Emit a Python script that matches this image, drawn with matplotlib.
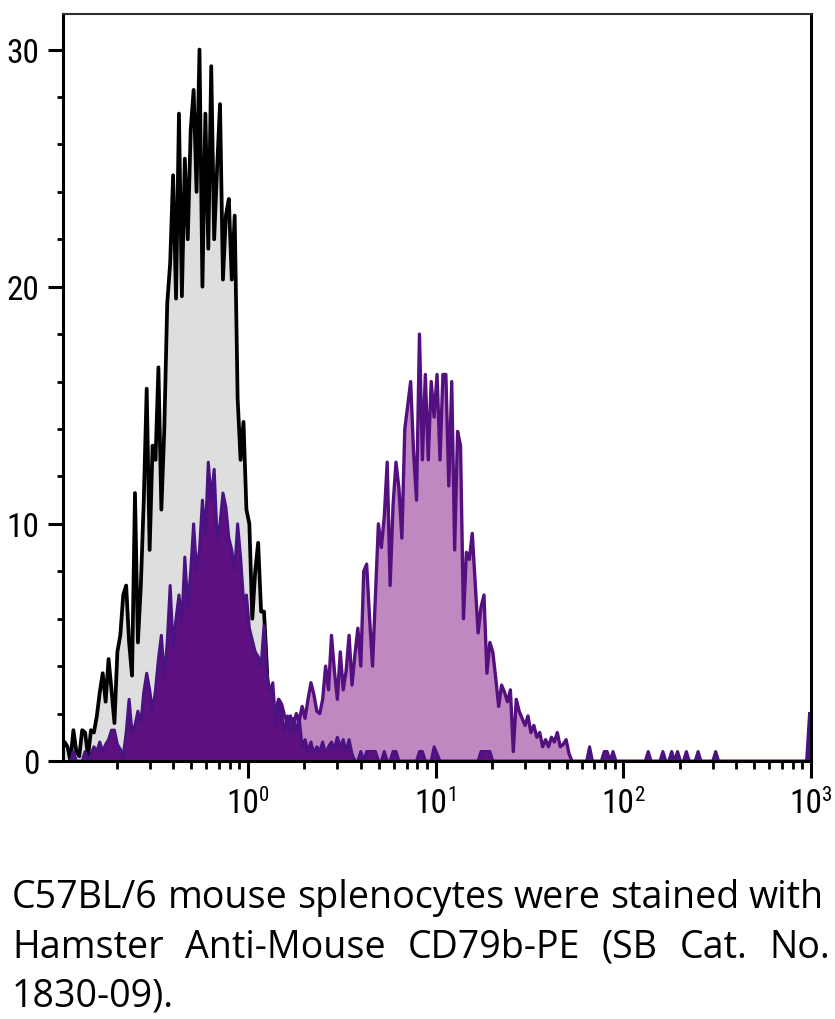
import os
import numpy as np
import matplotlib
matplotlib.use("Agg")
import matplotlib.pyplot as plt
from matplotlib import font_manager
from matplotlib.font_manager import FontProperties
from matplotlib.ticker import FixedLocator, FixedFormatter, LogLocator, NullFormatter, MultipleLocator

# ---------------- data (channel counts, 256 log channels over 10^-1 .. 10^3) ----------------
N_CHANNELS = 256
LOG_LO, LOG_HI = -1.0, 3.0

# unstained control (grey), starting at channel 0
control_start = 0
control_counts = [
    0.3, 0.8, 0.6, 0.0, 1.3, 0.4, 0.2, 1.3, 1.2, 0.2,
    1.3, 1.2, 1.9, 2.9, 3.7, 2.5, 4.3, 3.0, 1.6, 4.6,
    5.3, 7.0, 7.4, 5.0, 3.6, 11.3, 5.0, 7.4, 11.0, 15.7,
    8.9, 13.3, 12.7, 16.6, 10.6, 14.0, 19.3, 21.0, 24.7, 19.5,
    27.3, 19.6, 25.4, 22.0, 26.6, 28.3, 24.0, 30.0, 20.0, 27.3,
    21.6, 29.3, 22.0, 25.0, 27.7, 20.3, 23.0, 23.7, 20.3, 23.0,
    15.3, 12.7, 14.3, 10.6, 10.0, 6.0, 8.0, 9.2, 6.3, 6.3,
    3.9, 0.0,
]

# CD79b-PE stained, CD79b-negative population (dark purple), starting at channel 3
dark_start = 3
dark_counts = [
    0.0, 0.4, 0.0, 0.0, 0.0, 0.4, 0.0, 0.3, 0.6, 0.4,
    0.8, 0.4, 0.7, 0.9, 1.3, 1.3, 0.7, 0.5, 0.2, 1.2,
    2.6, 1.2, 1.5, 2.1, 1.6, 2.9, 3.7, 3.0, 2.1, 3.0,
    4.3, 5.3, 3.5, 5.0, 7.4, 4.8, 6.0, 7.0, 5.9, 8.6,
    6.5, 8.0, 10.0, 8.0, 8.9, 11.0, 9.5, 12.6, 11.0, 12.3,
    9.4, 10.0, 11.3, 10.7, 9.4, 8.9, 8.0, 10.0, 8.6, 6.8,
    7.0, 5.6, 5.1, 4.6, 4.4, 4.0, 5.7, 3.7, 2.9, 3.3,
    1.5, 2.6, 1.9, 1.2, 1.9, 1.2, 1.8, 1.2, 1.8, 0.6,
    0.9, 0.4, 0.8, 0.3, 0.6, 0.4, 0.8, 0.3, 0.6, 0.8,
    0.5, 1.0, 0.6, 0.9, 0.4, 0.9, 0.3, 0.0, 0.0, 0.4,
    0.0, 0.4, 0.4, 0.4, 0.4, 0.0, 0.0, 0.4, 0.0, 0.0,
    0.4, 0.4, 0.0, 0.0, 0.0, 0.0, 0.0, 0.0, 0.0, 0.4,
    0.4, 0.0, 0.0, 0.0, 0.6, 0.3, 0.0, 0.0, 0.0, 0.0,
    0.0, 0.0, 0.0, 0.0, 0.0, 0.0, 0.0, 0.0, 0.0, 0.0,
    0.4, 0.4, 0.4, 0.4, 0.0,
]
# sparse high-intensity events of the dark population
dark_tail_channels = [180, 185, 186, 188, 200, 205, 208, 210, 213, 217, 223, 255]
dark_tail_counts = [0.6, 0.4, 0.4, 0.4, 0.4, 0.4, 0.4, 0.4, 0.4, 0.4, 0.4, 2.0]

# CD79b-positive population (light purple), starting at channel 68
light_start = 68
light_counts = [
    0.8, 1.0, 1.5, 2.0, 1.8, 2.2, 2.6, 2.4, 1.9, 1.6,
    1.9, 1.4, 2.0, 1.7, 2.3, 1.8, 2.6, 3.3, 2.8, 2.1,
    2.0, 2.6, 4.0, 3.0, 5.3, 3.8, 2.6, 4.6, 3.0, 3.8,
    5.3, 3.2, 4.5, 5.6, 4.0, 8.0, 8.3, 6.0, 4.0, 7.0,
    10.0, 9.0, 10.3, 12.6, 7.4, 10.8, 12.6, 11.5, 9.4, 14.0,
    15.0, 16.0, 13.0, 11.0, 18.0, 12.7, 16.3, 12.7, 16.0, 14.5,
    16.3, 12.7, 16.3, 16.3, 11.6, 16.0, 8.9, 13.9, 13.3, 6.0,
    8.8, 8.5, 9.6, 7.5, 5.4, 6.5, 7.0, 3.7, 5.0, 4.6,
    3.5, 2.3, 3.2, 2.9, 2.5, 3.0, 0.4, 2.6, 2.1, 1.8,
    1.5, 1.9, 1.2, 1.5, 1.0, 1.2, 0.6, 0.9, 0.6, 1.0,
    0.8, 1.2, 0.6, 0.7, 0.9, 0.3, 0.0,
]

x_tick_values = [1, 10, 100, 1000]
x_tick_bases = ["10", "10", "10", "10"]
x_tick_exponents = ["0", "1", "2", "3"]
y_tick_values = [0, 10, 20, 30]
y_tick_labels = ["0", "10", "20", "30"]

caption_lines = [
    "C57BL/6 mouse splenocytes were stained with",
    "Hamster Anti-Mouse CD79b-PE (SB Cat. No.",
    "1830-09).",
]

# ---------------- fonts ----------------
def find_condensed_font():
    try:
        paths = font_manager.findSystemFonts()
    except Exception:
        paths = []
    paths = list(paths) + [f.fname for f in font_manager.fontManager.ttflist]
    prefs = ["liberationsansnarrow-regular", "liberationsansnarrow.",
             "robotocondensed-regular", "roboto_condensed-regular",
             "opensans_condensed-regular", "opensans-condensedregular",
             "notosans-condensed.", "dejavusanscondensed."]
    low = {os.path.basename(p).lower(): p for p in paths}
    for pref in prefs:
        for name, p in low.items():
            if name.startswith(pref) or pref in name:
                return p
    return None

cond_path = find_condensed_font()
if cond_path:
    TICK_FP = lambda size: FontProperties(fname=cond_path, size=size)
else:
    TICK_FP = lambda size: FontProperties(family="DejaVu Sans", size=size)

avail = {f.name for f in font_manager.fontManager.ttflist}
cap_font = "Open Sans" if "Open Sans" in avail else "DejaVu Sans"

# ---------------- build full channel arrays ----------------
def full_array(start, counts):
    a = np.zeros(N_CHANNELS)
    a[start:start + len(counts)] = counts
    return a

ctrl = full_array(control_start, control_counts)
dark = full_array(dark_start, dark_counts)
dark[dark_tail_channels] = dark_tail_counts
light = full_array(light_start, light_counts)

centers = 10 ** (LOG_LO + (np.arange(N_CHANNELS) + 0.5) * (LOG_HI - LOG_LO) / N_CHANNELS)

def span(start, n):
    return slice(start, min(start + n, N_CHANNELS))

# ---------------- figure ----------------
W, H, DPI = 835, 1020, 100
fig = plt.figure(figsize=(W / DPI, H / DPI), dpi=DPI)
L, R, T, B = 63, 811, 15, 762
ax = fig.add_axes([L / W, 1 - B / H, (R - L) / W, (B - T) / H])

GREY_FILL = "#dedede"
LIGHT_FILL = "#c088c0"
DARK_FILL = "#5e1080"
OUTLINE = "#551080"

s = span(control_start, len(control_counts))
ax.fill_between(centers[s], 0, ctrl[s], color=GREY_FILL, lw=0, zorder=1.0)
ax.plot(centers[s], ctrl[s], color="black", lw=2.7, zorder=1.1)

s = span(light_start, len(light_counts))
ax.fill_between(centers[s], 0, light[s], color=LIGHT_FILL, lw=0, zorder=1.2)
ax.plot(centers[s], light[s], color=OUTLINE, lw=2.4, zorder=1.3)

s = slice(dark_start, N_CHANNELS)
ax.fill_between(centers[s], 0, dark[s], color=DARK_FILL, lw=0, zorder=1.4)
ax.plot(centers[s], dark[s], color="#4a1282", lw=2.2, zorder=1.5)

ax.set_xscale("log")
ax.set_xlim(10 ** -0.985, 1000)
ax.set_ylim(0, 31.5)

ax.xaxis.set_major_locator(FixedLocator(x_tick_values))
ax.xaxis.set_major_formatter(NullFormatter())
ax.xaxis.set_minor_locator(LogLocator(base=10, subs=range(2, 10), numticks=20))
ax.xaxis.set_minor_formatter(NullFormatter())
ax.yaxis.set_major_locator(FixedLocator(y_tick_values))
ax.yaxis.set_major_formatter(FixedFormatter(y_tick_labels))
ax.yaxis.set_minor_locator(MultipleLocator(2))

ax.tick_params(axis="x", which="major", direction="out", length=12, width=2.2)
ax.tick_params(axis="x", which="minor", direction="out", length=6, width=2.0)
ax.tick_params(axis="y", which="major", direction="out", length=10.8, width=2.2, pad=6)
ax.tick_params(axis="y", which="minor", direction="out", length=4.5, width=2.0)
ax.tick_params(top=False, right=False, which="both")
for t in ax.get_yticklabels():
    t.set_fontproperties(TICK_FP(24))

for side in ["left", "bottom", "right"]:
    ax.spines[side].set_linewidth(2.2)
    ax.spines[side].set_color("black")
ax.spines["top"].set_linewidth(1.5)
ax.spines["top"].set_color("#303030")

fig.canvas.draw()
renderer = fig.canvas.get_renderer()

def measure_fp(sv, fp):
    t = fig.text(0, 0, sv, fontproperties=fp)
    w = t.get_window_extent(renderer=renderer).width
    t.remove()
    return w

# ---------------- x tick labels: 10 with superscript exponent ----------------
base_fp = TICK_FP(24)
sup_fp = TICK_FP(15)
label_baseline_px = 813
sup_baseline_px = 801
for val, base, ex in zip(x_tick_values, x_tick_bases, x_tick_exponents):
    xpx = ax.transData.transform((val, 1))[0]
    wb = measure_fp(base, base_fp)
    ws = measure_fp(ex, sup_fp)
    x0 = xpx - (wb + ws) / 2
    fig.text(x0 / W, 1 - label_baseline_px / H, base, fontproperties=base_fp,
             ha="left", va="baseline")
    fig.text((x0 + wb) / W, 1 - sup_baseline_px / H, ex, fontproperties=sup_fp,
             ha="left", va="baseline")

# ---------------- justified caption ----------------
def measure(sv, size):
    t = fig.text(0, 0, sv, fontsize=size, family=[cap_font, "DejaVu Sans"])
    w = t.get_window_extent(renderer=renderer).width
    t.remove()
    return w

left_px = 12
line_right = [824, 830, None]
baselines = [908, 958, 1007]
ref_size = 30.0
natural = measure(caption_lines[0], ref_size)
cap_size = ref_size * (line_right[0] - left_px) / natural

for line, rpx, by in zip(caption_lines, line_right, baselines):
    if rpx is None:
        fig.text(left_px / W, 1 - by / H, line, fontsize=cap_size,
                 family=[cap_font, "DejaVu Sans"], ha="left", va="baseline")
        continue
    words = line.split(" ")
    widths = [measure(w_, cap_size) for w_ in words]
    gap = (rpx - left_px - sum(widths)) / (len(words) - 1)
    x = left_px
    for w_, wd in zip(words, widths):
        fig.text(x / W, 1 - by / H, w_, fontsize=cap_size,
                 family=[cap_font, "DejaVu Sans"], ha="left", va="baseline")
        x += wd + gap

fig.savefig("out.png", dpi=DPI)
